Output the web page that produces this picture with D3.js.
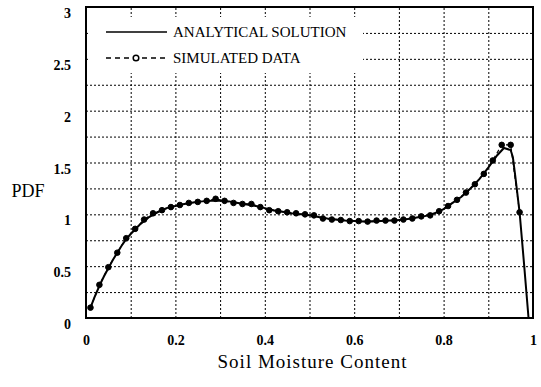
<!DOCTYPE html>
<html>
<head>
<meta charset="utf-8">
<script src="https://cdn.jsdelivr.net/npm/d3@7"></script>
<style>
  body { margin: 0; background: #fff; }
  svg { display: block; }
  text { font-family: "Liberation Serif", "Times New Roman", serif; fill: #000; }
</style>
</head>
<body>
<div id="chart"></div>
<script>
// analytical solution (solid curve)
const analyticX = [0.01, 0.02, 0.03, 0.04, 0.05, 0.06, 0.07, 0.08, 0.09, 0.10, 0.12, 0.14, 0.16, 0.18, 0.20,
  0.22, 0.24, 0.26, 0.28, 0.30, 0.32, 0.34, 0.36, 0.38, 0.40, 0.42, 0.44, 0.46, 0.48, 0.50,
  0.52, 0.54, 0.56, 0.58, 0.60, 0.62, 0.64, 0.66, 0.68, 0.70, 0.72, 0.74, 0.76, 0.78, 0.80,
  0.82, 0.84, 0.86, 0.88, 0.90, 0.92, 0.935, 0.95, 0.955, 0.96, 0.97, 0.98, 0.99]
const analyticY = [0.10, 0.21, 0.31, 0.40, 0.48, 0.56, 0.63, 0.70, 0.76, 0.81, 0.90, 0.97, 1.02, 1.06, 1.08,
  1.10, 1.115, 1.125, 1.13, 1.13, 1.125, 1.11, 1.095, 1.08, 1.06, 1.04, 1.025, 1.01, 1.00, 0.99,
  0.975, 0.96, 0.95, 0.94, 0.935, 0.93, 0.93, 0.935, 0.94, 0.945, 0.955, 0.97, 0.985, 1.01, 1.05,
  1.11, 1.17, 1.25, 1.34, 1.45, 1.57, 1.64, 1.62, 1.55, 1.38, 1.02, 0.52, 0.0]

// simulated data (dashed line with markers)
const simX = [0.01, 0.03, 0.05, 0.07, 0.09, 0.11, 0.13, 0.15, 0.17, 0.19, 0.21, 0.23, 0.25, 0.27, 0.29,
  0.31, 0.33, 0.35, 0.37, 0.39, 0.41, 0.43, 0.45, 0.47, 0.49, 0.51, 0.53, 0.55, 0.57, 0.59,
  0.61, 0.63, 0.65, 0.67, 0.69, 0.71, 0.73, 0.75, 0.77, 0.79, 0.81, 0.83, 0.85, 0.87, 0.89,
  0.91, 0.93, 0.95, 0.97]
const simY = [0.10, 0.32, 0.49, 0.63, 0.77, 0.86, 0.95, 1.01, 1.04, 1.07, 1.09, 1.11, 1.12, 1.13, 1.15,
  1.13, 1.11, 1.10, 1.10, 1.07, 1.04, 1.03, 1.02, 1.01, 1.00, 0.99, 0.96, 0.95, 0.945, 0.935,
  0.935, 0.93, 0.94, 0.94, 0.94, 0.95, 0.96, 0.98, 0.99, 1.03, 1.08, 1.14, 1.21, 1.29, 1.39,
  1.52, 1.67, 1.67, 1.02]

const xTicks = [0, 0.2, 0.4, 0.6, 0.8, 1]
const yTicks = [0, 0.5, 1, 1.5, 2, 2.5, 3]
const xGrid = [0.1, 0.2, 0.3, 0.4, 0.5, 0.6, 0.7, 0.8, 0.9]
const yGrid = [0.25, 0.5, 0.75, 1, 1.25, 1.5, 1.75, 2, 2.25, 2.5, 2.75]
const legendLabels = ["ANALYTICAL SOLUTION", "SIMULATED DATA"]

const margin = {top: 7, right: 8, bottom: 69, left: 86},
    width = 541 - margin.left - margin.right,
    height = 387 - margin.top - margin.bottom;

const svg = d3.select("#chart")
    .append("svg")
    .attr("width", width + margin.left + margin.right)
    .attr("height", height + margin.top + margin.bottom)
    .append("g")
    .attr("transform", "translate(" + margin.left + "," + margin.top + ")");

const x = d3.scaleLinear().domain([0, 1]).range([0, width]);
const y = d3.scaleLinear().domain([0, 3]).range([height, 0]);

// dotted grid
svg.append("g")
    .attr("class", "grid")
    .attr("transform", "translate(0," + height + ")")
    .call(d3.axisBottom(x).tickValues(xGrid).tickSize(-height).tickFormat(""))
    .call(g => g.select(".domain").remove());
svg.append("g")
    .attr("class", "grid")
    .call(d3.axisLeft(y).tickValues(yGrid).tickSize(-width).tickFormat(""))
    .call(g => g.select(".domain").remove());
svg.selectAll(".grid line")
    .attr("stroke", "#000")
    .attr("stroke-width", 1)
    .attr("stroke-dasharray", "2,2");

// legend background hides grid
svg.append("rect")
    .attr("x", 4).attr("y", 10)
    .attr("width", 273).attr("height", 56)
    .attr("fill", "#fff");

// x axis
svg.append("g")
    .attr("transform", "translate(0," + height + ")")
    .call(d3.axisBottom(x).tickValues(xTicks).tickSize(0).tickPadding(17).tickFormat(d3.format("")))
    .call(g => g.select(".domain").remove())
    .selectAll("text")
    .attr("font-family", "Liberation Serif, serif")
    .attr("font-weight", "bold")
    .attr("font-size", 14);

// y axis
svg.append("g")
    .call(d3.axisLeft(y).tickValues(yTicks).tickSize(0).tickPadding(15).tickFormat(d3.format("")))
    .call(g => g.select(".domain").remove())
    .selectAll("text")
    .attr("dy", "0.75em")
    .attr("font-family", "Liberation Serif, serif")
    .attr("font-weight", "bold")
    .attr("font-size", 14);

// axis labels
svg.append("text")
    .attr("x", width / 2 + 3)
    .attr("y", height + 50)
    .attr("text-anchor", "middle")
    .attr("font-size", 19)
    .attr("letter-spacing", 1)
    .text("Soil Moisture Content");
svg.append("text")
    .attr("x", -58)
    .attr("y", 190)
    .attr("text-anchor", "middle")
    .attr("font-size", 18)
    .text("PDF");

// curves
const line = d3.line().x(d => x(d[0])).y(d => y(d[1]));
const simData = simX.map((v, i) => [v, simY[i]]);
const anaData = analyticX.map((v, i) => [v, analyticY[i]]);

svg.append("path")
    .datum(simData)
    .attr("fill", "none")
    .attr("stroke", "#000")
    .attr("stroke-width", 1.2)
    .attr("stroke-dasharray", "4,3")
    .attr("d", line);

svg.append("path")
    .datum(anaData)
    .attr("fill", "none")
    .attr("stroke", "#000")
    .attr("stroke-width", 2)
    .attr("d", line);

svg.append("g").selectAll("circle")
    .data(simData)
    .enter()
    .append("circle")
    .attr("cx", d => x(d[0]))
    .attr("cy", d => y(d[1]))
    .attr("r", 2.8)
    .attr("fill", "#000")
    .attr("stroke", "#000")
    .attr("stroke-width", 1);

// legend
const legend = svg.append("g").attr("transform", "translate(20,0)");
legend.append("line")
    .attr("x1", 0).attr("x2", 61).attr("y1", 25).attr("y2", 25)
    .attr("stroke", "#000").attr("stroke-width", 1.5);
legend.append("line")
    .attr("x1", 0).attr("x2", 61).attr("y1", 51).attr("y2", 51)
    .attr("stroke", "#000").attr("stroke-width", 1.5)
    .attr("stroke-dasharray", "5,4");
legend.append("circle")
    .attr("cx", 30).attr("cy", 51).attr("r", 2.8)
    .attr("fill", "#fff").attr("stroke", "#000").attr("stroke-width", 1.5);
legend.selectAll("text.leg")
    .data(legendLabels)
    .enter()
    .append("text")
    .attr("class", "leg")
    .attr("x", 67)
    .attr("y", (d, i) => 30 + i * 26)
    .attr("font-size", 15)
    .text(d => d);

// frame
svg.append("rect")
    .attr("width", width).attr("height", height)
    .attr("fill", "none")
    .attr("stroke", "#000")
    .attr("stroke-width", 2);
</script>
</body>
</html>
